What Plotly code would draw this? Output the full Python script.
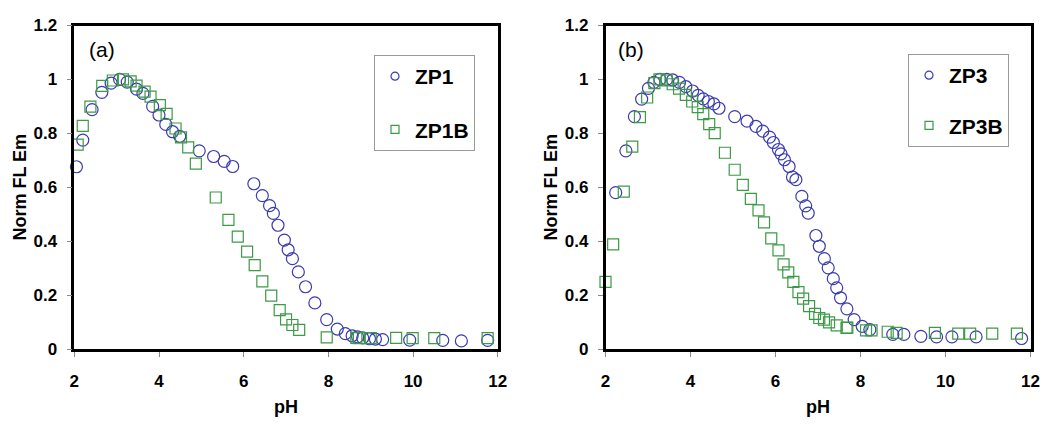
import plotly.graph_objects as go
from plotly.subplots import make_subplots

# ---- data ----
a_zp1_x = [2.05, 2.2, 2.42, 2.65, 2.87, 3.07, 3.25, 3.47, 3.62, 3.85, 4.0, 4.16, 4.32, 4.49,
           4.95, 5.29, 5.54, 5.74, 6.24, 6.44, 6.61, 6.70, 6.81, 6.96, 7.05, 7.15, 7.29, 7.46,
           7.68, 7.96, 8.21, 8.40, 8.56, 8.69, 8.81, 8.97, 9.11, 9.28, 9.92, 10.70, 11.14, 11.76]
a_zp1_y = [0.676, 0.775, 0.888, 0.952, 0.986, 1.0, 0.99, 0.964, 0.948, 0.90, 0.868, 0.833, 0.806, 0.789,
           0.735, 0.714, 0.696, 0.677, 0.613, 0.569, 0.532, 0.503, 0.459, 0.404, 0.368, 0.335, 0.286, 0.231,
           0.171, 0.109, 0.074, 0.057, 0.049, 0.045, 0.041, 0.038, 0.037, 0.035, 0.033, 0.032, 0.030, 0.032]

a_zp1b_x = [2.08, 2.20, 2.38, 2.66, 2.91, 3.15, 3.33, 3.47, 3.66, 3.80, 4.02, 4.18, 4.39, 4.52, 4.69,
            4.87, 5.34, 5.64, 5.86, 6.08, 6.26, 6.44, 6.65, 6.85, 7.0, 7.15, 7.31, 7.96, 8.66, 8.72,
            9.0, 9.60, 9.99, 10.50, 11.76]
a_zp1b_y = [0.758, 0.828, 0.899, 0.976, 0.996, 1.0, 0.993, 0.977, 0.955, 0.936, 0.905, 0.872, 0.818, 0.785, 0.748,
            0.688, 0.562, 0.479, 0.417, 0.361, 0.311, 0.251, 0.198, 0.144, 0.110, 0.089, 0.071, 0.043, 0.041, 0.040,
            0.040, 0.041, 0.040, 0.040, 0.040]

b_zp3_x = [2.24, 2.48, 2.68, 2.85, 3.01, 3.14, 3.28, 3.44, 3.58, 3.74, 3.89, 4.05, 4.18, 4.30, 4.42,
           4.55, 4.67, 5.04, 5.33, 5.54, 5.70, 5.86, 5.95, 6.07, 6.13, 6.21, 6.32, 6.40, 6.48, 6.62,
           6.71, 6.77, 6.95, 7.03, 7.15, 7.24, 7.36, 7.44, 7.53, 7.68, 7.85, 8.04, 8.22, 8.76, 9.02,
           9.42, 9.79, 10.15, 10.72, 11.79]
b_zp3_y = [0.58, 0.735, 0.862, 0.927, 0.967, 0.989, 1.0, 1.0, 0.998, 0.989, 0.973, 0.957, 0.941, 0.928, 0.918,
           0.909, 0.893, 0.862, 0.845, 0.826, 0.808, 0.786, 0.766, 0.740, 0.724, 0.702, 0.677, 0.638, 0.628, 0.566,
           0.531, 0.504, 0.421, 0.381, 0.335, 0.301, 0.261, 0.227, 0.19, 0.149, 0.109, 0.084, 0.072, 0.054, 0.054,
           0.047, 0.045, 0.045, 0.045, 0.039]

b_zp3b_x = [2.0, 2.18, 2.43, 2.63, 2.81, 2.98, 3.15, 3.27, 3.44, 3.58, 3.73, 3.89, 4.04, 4.17, 4.30,
            4.44, 4.57, 4.81, 5.04, 5.23, 5.42, 5.60, 5.73, 5.90, 6.07, 6.19, 6.30, 6.42, 6.54, 6.65,
            6.79, 6.93, 7.03, 7.14, 7.26, 7.44, 7.67, 7.69, 8.13, 8.26, 8.64, 8.85, 9.75, 10.30, 10.58,
            11.10, 11.68]
b_zp3b_y = [0.249, 0.388, 0.584, 0.751, 0.86, 0.933, 0.986, 1.0, 0.996, 0.982, 0.966, 0.943, 0.918, 0.897, 0.871,
            0.834, 0.801, 0.728, 0.665, 0.609, 0.557, 0.514, 0.47, 0.41, 0.366, 0.314, 0.284, 0.249, 0.211, 0.187,
            0.159, 0.13, 0.115, 0.109, 0.099, 0.088, 0.078, 0.079, 0.069, 0.069, 0.064, 0.06, 0.06, 0.057, 0.057,
            0.057, 0.057]

x_ticks = [2, 4, 6, 8, 10, 12]
y_ticks = [0, 0.2, 0.4, 0.6, 0.8, 1.0, 1.2]
y_tick_text = ["0", "0.2", "0.4", "0.6", "0.8", "1", "1.2"]

BLUE = "#3b3bb0"
GREEN = "#3d9a45"
FONT = "Liberation Sans, Arial, sans-serif"

fig = make_subplots(rows=1, cols=2)

def add_series(x, y, name, symbol, color, col, legend):
    fig.add_trace(go.Scatter(x=x, y=y, mode="markers", name=name, showlegend=False,
                             cliponaxis=False,
                             marker=dict(symbol=symbol, size=12 if "circle" in symbol else 11,
                                         color=color, line=dict(color=color, width=1.2))),
                  row=1, col=col)
    # legend entry (smaller symbol like the original legend)
    fig.add_trace(go.Scatter(x=[None], y=[None], mode="markers", name=name, legend=legend,
                             legendgroup=name,
                             marker=dict(symbol=symbol, size=8, color=color,
                                         line=dict(color=color, width=1.2))),
                  row=1, col=col)

add_series(a_zp1_x, a_zp1_y, "ZP1", "circle-open", BLUE, 1, "legend")
add_series(a_zp1b_x, a_zp1b_y, "ZP1B", "square-open", GREEN, 1, "legend")
add_series(b_zp3_x, b_zp3_y, "ZP3", "circle-open", BLUE, 2, "legend2")
add_series(b_zp3b_x, b_zp3b_y, "ZP3B", "square-open", GREEN, 2, "legend2")

W, H = 1050, 426
OFF = 8  # page body margin offset of the rendered figure
def px_x(p):
    return (p - OFF) / W
def px_y(p):
    return 1 - (p - OFF) / H

ydom = [px_y(349), px_y(25.5)]

axis_common = dict(showline=True, linecolor="black", linewidth=2.5, mirror=True,
                   showgrid=False, zeroline=False, ticks="outside", ticklen=5,
                   tickcolor="#888888", tickwidth=1, automargin=False,
                   tickfont=dict(family=FONT, size=17, color="black", weight="bold"))

fig.update_xaxes(range=[2, 12], tickvals=x_ticks, ticklabelstandoff=10,
                 title=dict(text="<b>pH</b>", font=dict(family=FONT, size=18, color="black"), standoff=11),
                 **axis_common)
fig.update_yaxes(range=[0, 1.2], tickvals=y_ticks, ticktext=y_tick_text, ticklabelstandoff=6,
                 title=dict(text="<b>Norm FL Em</b>", font=dict(family=FONT, size=18, color="black"), standoff=3),
                 **axis_common)

legend_font = dict(family=FONT, size=21, color="black", weight="bold")
fig.update_layout(
    width=W, height=H,
    margin=dict(l=0, r=0, t=0, b=0),
    plot_bgcolor="white", paper_bgcolor="white",
    xaxis=dict(domain=[px_x(74.3), px_x(497.8)]),
    xaxis2=dict(domain=[px_x(605.5), px_x(1030.5)]),
    yaxis=dict(domain=ydom),
    yaxis2=dict(domain=ydom),
    legend=dict(x=px_x(374), y=px_y(55), xanchor="left", yanchor="top",
                bordercolor="#9a9a9a", borderwidth=1, bgcolor="white",
                tracegroupgap=23, itemwidth=30, font=legend_font),
    legend2=dict(x=px_x(908), y=px_y(54), xanchor="left", yanchor="top",
                 bordercolor="#9a9a9a", borderwidth=1, bgcolor="white",
                 tracegroupgap=20, itemwidth=30, font=legend_font),
    annotations=[
        dict(text="(a)", xref="x domain", yref="y domain", x=0.03, y=0.925,
             xanchor="left", yanchor="middle", showarrow=False,
             font=dict(family=FONT, size=21, color="black")),
        dict(text="(b)", xref="x2 domain", yref="y2 domain", x=0.025, y=0.925,
             xanchor="left", yanchor="middle", showarrow=False,
             font=dict(family=FONT, size=21, color="black")),
    ],
)

fig.write_html("out.html")
